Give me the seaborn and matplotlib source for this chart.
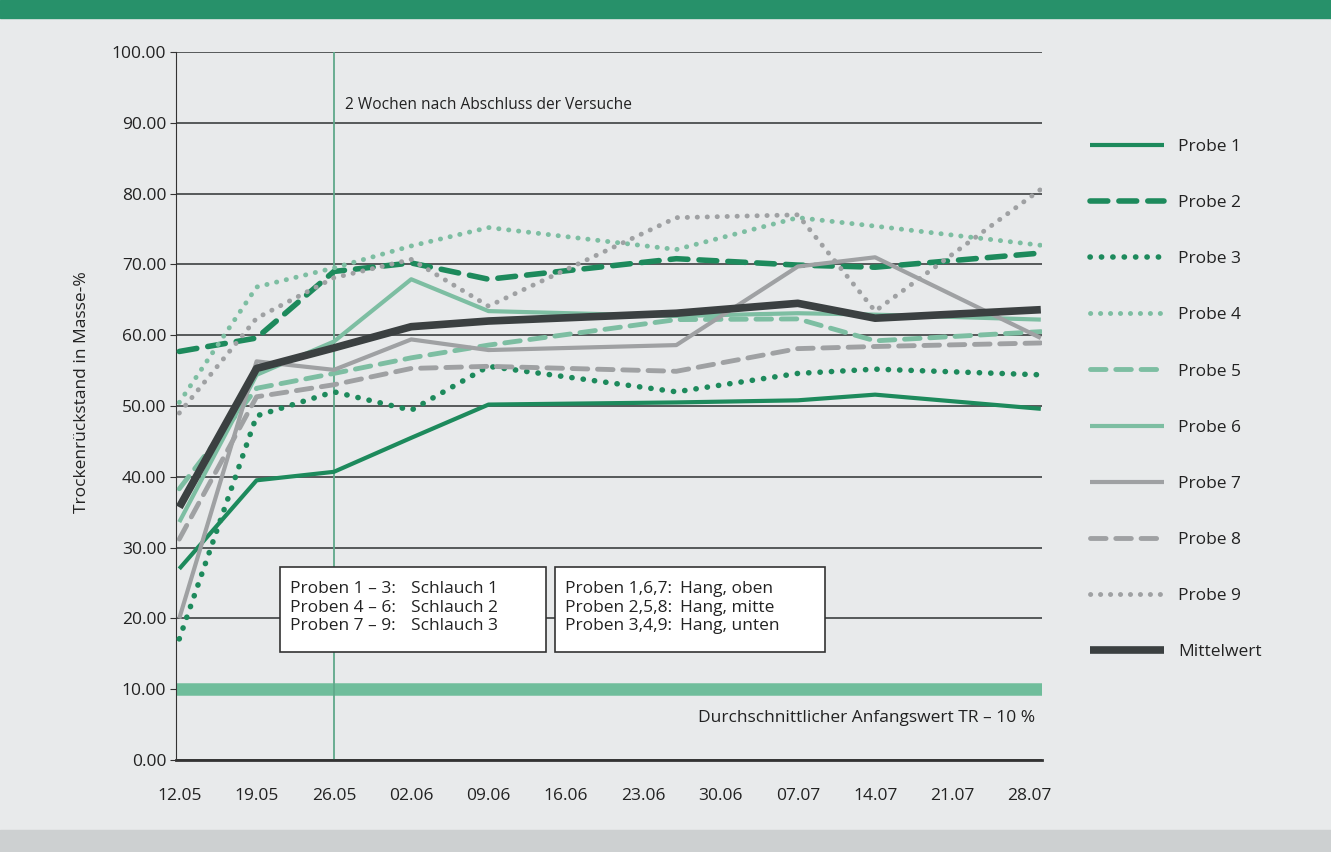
import pandas as pd
import matplotlib.pyplot as plt
from matplotlib.patches import Rectangle
import seaborn as sns

# measurement dates (Tag.Monat) and dry residue values in mass-%
mess_datum = ['12.05', '19.05', '26.05', '02.06', '09.06', '26.06', '07.07', '14.07', '29.07']

probe_1 = [27.0, 39.5, 40.7, 45.5, 50.2, 50.5, 50.8, 51.6, 49.6]
probe_2 = [57.7, 59.6, 69.0, 70.2, 67.9, 70.8, 69.9, 69.6, 71.6]
probe_3 = [17.1, 48.6, 52.0, 49.4, 55.6, 52.0, 54.6, 55.2, 54.4]
probe_4 = [50.5, 66.8, 69.5, 72.6, 75.2, 72.1, 76.6, 75.4, 72.7]
probe_5 = [38.3, 52.5, 54.6, 56.8, 58.6, 62.2, 62.3, 59.2, 60.5]
probe_6 = [33.6, 54.4, 59.1, 67.9, 63.4, 62.7, 63.1, 62.9, 62.2]
probe_7 = [20.0, 56.3, 55.1, 59.4, 57.9, 58.6, 69.7, 71.0, 59.6]
probe_8 = [31.2, 51.3, 53.0, 55.3, 55.6, 54.9, 58.1, 58.4, 58.9]
probe_9 = [49.0, 62.4, 68.1, 70.7, 64.1, 76.6, 77.0, 63.4, 80.6]
mittelwert = [35.7, 55.3, 58.2, 61.2, 62.0, 63.1, 64.5, 62.4, 63.6]

tick_labels = ['12.05', '19.05', '26.05', '02.06', '09.06', '16.06',
               '23.06', '30.06', '07.07', '14.07', '21.07', '28.07']
y_ticks = [0, 10, 20, 30, 40, 50, 60, 70, 80, 90, 100]
anfangswert = 10

dunkelgruen = '#1d8a5c'
hellgruen = '#7dbea2'
grau = '#9fa1a3'
dunkelgrau = '#3b4041'
punkt = (0, (0.05, 2.0))
strich = (0, (3.2, 2.0))

serien = [
    ('Probe 1', probe_1, dunkelgruen, '-', 3.0),
    ('Probe 2', probe_2, dunkelgruen, strich, 4.0),
    ('Probe 3', probe_3, dunkelgruen, punkt, 4.0),
    ('Probe 4', probe_4, hellgruen, punkt, 3.5),
    ('Probe 5', probe_5, hellgruen, strich, 3.5),
    ('Probe 6', probe_6, hellgruen, '-', 3.0),
    ('Probe 7', probe_7, grau, '-', 3.0),
    ('Probe 8', probe_8, grau, strich, 3.5),
    ('Probe 9', probe_9, grau, punkt, 3.5),
    ('Mittelwert', mittelwert, dunkelgrau, '-', 5.5),
]

datum = pd.to_datetime([d + '.2014' for d in mess_datum], format='%d.%m.%Y')
tage = (datum - datum[0]).days

sns.set_style('white')
plt.rcParams['font.family'] = ['Open Sans', 'DejaVu Sans']

fig = plt.figure(figsize=(13.31, 8.52), dpi=100, facecolor='#e8eaeb')
fig.add_artist(Rectangle((0, 1 - 18 / 852), 1, 18 / 852, color='#27916a',
                         transform=fig.transFigure))
fig.add_artist(Rectangle((0, 0), 1, 22 / 852, color='#cdd0d1',
                         transform=fig.transFigure))
ax = fig.add_axes([0.1322, 0.108, 0.6506, 0.831])
ax.set_facecolor('none')

for name, werte, farbe, stil, breite in serien:
    df = pd.DataFrame({'tag': tage, 'wert': werte})
    sns.lineplot(data=df, x='tag', y='wert', ax=ax, color=farbe, linestyle=stil,
                 lw=breite, label=name, dash_capstyle='round', solid_capstyle='butt',
                 zorder=3)

ax.axhline(anfangswert, color='#6fbd9b', lw=9, zorder=2)
ax.axvline(14, color='#5fa88a', lw=1.3, zorder=2)

ax.set_ylim(0, 100)
ax.set_xlim(-0.3, 78.1)
ax.set_yticks(y_ticks)
ax.set_yticklabels([f'{v:.2f}' for v in y_ticks], fontsize=12.5, color='#222')
ax.set_xticks(range(0, 78, 7))
ax.set_xticklabels(tick_labels, fontsize=12.5, color='#222')
ax.tick_params(axis='x', length=0, pad=20)
ax.tick_params(axis='y', length=4, pad=3, color='#333', left=True)
ax.yaxis.grid(True, color='#4a4d4e', lw=1.3)
ax.set_axisbelow(True)
for s in ['top', 'right']:
    ax.spines[s].set_visible(False)
ax.spines['left'].set_color('#333')
ax.spines['bottom'].set_color('#333')
ax.spines['bottom'].set_linewidth(2)
ax.set_xlabel('')
ax.set_ylabel('Trockenrückstand in Masse-%', fontsize=12.5, color='#222')
ax.yaxis.set_label_coords(-0.099, 0.52)

ax.text(15.0, 92.0, '2 Wochen nach Abschluss der Versuche', fontsize=11.2, color='#222')
ax.text(77.5, 5.9, 'Durchschnittlicher Anfangswert TR – 10 %', fontsize=12.5,
        color='#222', ha='right', va='center')

# boxes with the sample grouping
ax.add_patch(Rectangle((9.1, 15.3), 24.1, 12.0, facecolor='white', edgecolor='#333',
                       lw=1.2, zorder=5))
ax.add_patch(Rectangle((34.0, 15.3), 24.5, 12.0, facecolor='white', edgecolor='#333',
                       lw=1.2, zorder=5))
box_kw = dict(fontsize=12.5, va='center', linespacing=1.2, zorder=6, color='#222')
ax.text(10.0, 21.5, 'Proben 1 – 3:\nProben 4 – 6:\nProben 7 – 9:', **box_kw)
ax.text(21.0, 21.5, 'Schlauch 1\nSchlauch 2\nSchlauch 3', **box_kw)
ax.text(34.9, 21.5, 'Proben 1,6,7:\nProben 2,5,8:\nProben 3,4,9:', **box_kw)
ax.text(45.3, 21.5, 'Hang, oben\nHang, mitte\nHang, unten', **box_kw)

leg = ax.legend(loc='upper left', bbox_to_anchor=(1.055, 0.877), frameon=False,
                fontsize=12.5, handlelength=4.3, handletextpad=0.8, labelspacing=2.3,
                borderaxespad=0, borderpad=0)
for t in leg.get_texts():
    t.set_color('#222')

plt.savefig('out.png', dpi=100, facecolor=fig.get_facecolor())
